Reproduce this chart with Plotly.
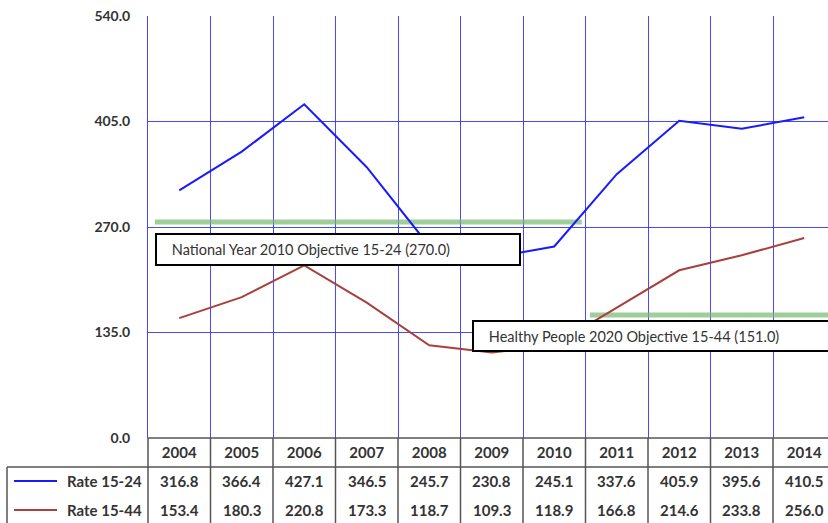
import plotly.graph_objects as go

# ---------------- data ----------------
years = ["2004", "2005", "2006", "2007", "2008", "2009", "2010", "2011", "2012", "2013", "2014"]
rate_15_24 = [316.8, 366.4, 427.1, 346.5, 245.7, 230.8, 245.1, 337.6, 405.9, 395.6, 410.5]
rate_15_44 = [153.4, 180.3, 220.8, 173.3, 118.7, 109.3, 118.9, 166.8, 214.6, 233.8, 256.0]
series_names = ["Rate 15-24", "Rate 15-44"]
y_ticks = [0, 135, 270, 405, 540]
objective_values = [270.0, 151.0]
objective_labels = ["National Year 2010 Objective 15-24 (270.0)",
                    "Healthy People 2020 Objective 15-44 (151.0)"]

# ---------------- geometry / style ----------------
W, H = 828, 523
L, R, T, B = 148, 0, 16, 85
PW, PH = W - L - R, H - T - B
cat_px = 62.5
x_range = [-0.5, -0.5 + PW / cat_px]
y_range = [0, 540]

BLUE = "#1a1aff"
RED = "#a8403d"
GRID = "rgba(40,40,255,0.85)"
GREEN = "rgba(120,185,112,0.7)"
TXT = "#333333"
TABLE = "#555555"
FONT = "Lato"


def px_x(X):  # pixel x -> paper
    return (X - L) / PW


def px_y(Y):  # pixel y -> paper
    return (H - B - Y) / PH


def cat_paper(v):  # category index -> paper x
    return (v - x_range[0]) / (x_range[1] - x_range[0])


fig = go.Figure()
for name, vals, col in [(series_names[0], rate_15_24, BLUE), (series_names[1], rate_15_44, RED)]:
    fig.add_trace(go.Scatter(x=years, y=vals, mode="lines", name=name,
                             line=dict(color=col, width=2), showlegend=False,
                             cliponaxis=False))

shapes = []
# objective lines (thick green), drawn between grid and traces
obj_spans = [(-0.39, 6.44), (6.57, 10.6)]
for val, (a, b) in zip(objective_values, obj_spans):
    shapes.append(dict(type="line", xref="x", yref="y", x0=a, x1=b,
                       ysizemode="pixel", yanchor=val, y0=5, y1=5,
                       line=dict(color=GREEN, width=5), layer="between"))

# data table lines
n = len(years)
y_top = 0
y_row = px_y(467)
y_bot = px_y(530)
x_left = px_x(7)
shapes.append(dict(type="line", xref="paper", yref="paper", x0=0, x1=1, y0=y_top, y1=y_top,
                   line=dict(color=TABLE, width=1.5)))
shapes.append(dict(type="line", xref="paper", yref="paper", x0=x_left, x1=1, y0=y_row, y1=y_row,
                   line=dict(color=TABLE, width=1.5)))
shapes.append(dict(type="line", xref="paper", yref="paper", x0=x_left, x1=x_left, y0=y_row, y1=y_bot,
                   line=dict(color=TABLE, width=1.5)))
for i in range(n + 1):
    xp = cat_paper(i - 0.5)
    if xp <= 1.0001:
        shapes.append(dict(type="line", xref="paper", yref="paper", x0=xp, x1=xp, y0=y_top, y1=y_bot,
                           line=dict(color=TABLE, width=1.5)))

# legend keys in the table
row_y = [px_y(481), px_y(510)]
for ry, col in zip(row_y, [BLUE, RED]):
    shapes.append(dict(type="line", xref="paper", yref="paper", x0=px_x(14), x1=px_x(57),
                       y0=ry, y1=ry, line=dict(color=col, width=2)))

tab_font = dict(family=FONT, size=15, color=TXT, weight="bold")
annotations = []
for ry, name in zip(row_y, series_names):
    annotations.append(dict(xref="paper", yref="paper", x=px_x(144), y=ry, xanchor="right",
                            yanchor="middle", text=name, showarrow=False, font=tab_font))
for vals, ry in zip([rate_15_24, rate_15_44], row_y):
    for i, v in enumerate(vals):
        annotations.append(dict(xref="paper", yref="paper", x=cat_paper(i), y=ry, xanchor="center",
                                yanchor="middle", text="%.1f" % v, showarrow=False, font=tab_font))

# objective label boxes
boxes = [(155, 233, 362, 29), (472, 320, 380, 28)]
for (bx, by, bw, bh), txt in zip(boxes, objective_labels):
    annotations.append(dict(xref="paper", yref="paper", x=px_x(bx), y=px_y(by),
                            xanchor="left", yanchor="top", showarrow=False,
                            text="&nbsp;&nbsp;&nbsp;&nbsp;" + txt, align="left", valign="middle",
                            width=bw, height=bh, bgcolor="white", bordercolor="black",
                            borderwidth=2, borderpad=0,
                            font=dict(family=FONT, size=14.5, color=TXT)))

fig.update_layout(
    width=W, height=H,
    margin=dict(l=L, r=R, t=T, b=B, pad=0),
    paper_bgcolor="white", plot_bgcolor="white",
    shapes=shapes, annotations=annotations,
    font=dict(family=FONT, color=TXT),
    xaxis=dict(type="category", range=x_range, tickson="boundaries", showgrid=True,
               gridcolor=GRID, gridwidth=1, ticks="", showline=False, zeroline=False,
               tickfont=tab_font, ticklabelstandoff=4),
    yaxis=dict(range=y_range, tickvals=y_ticks, tickformat=".1f", showgrid=True,
               gridcolor=GRID, gridwidth=1, zeroline=False, ticks="",
               showline=True, linecolor=GRID, linewidth=1, ticklabelstandoff=14,
               tickfont=dict(family=FONT, size=14, color=TXT, weight="bold")),
)

fig.write_html("out.html", config={"displayModeBar": False},
               post_script="document.body.style.margin='0';document.body.style.overflow='hidden';")
